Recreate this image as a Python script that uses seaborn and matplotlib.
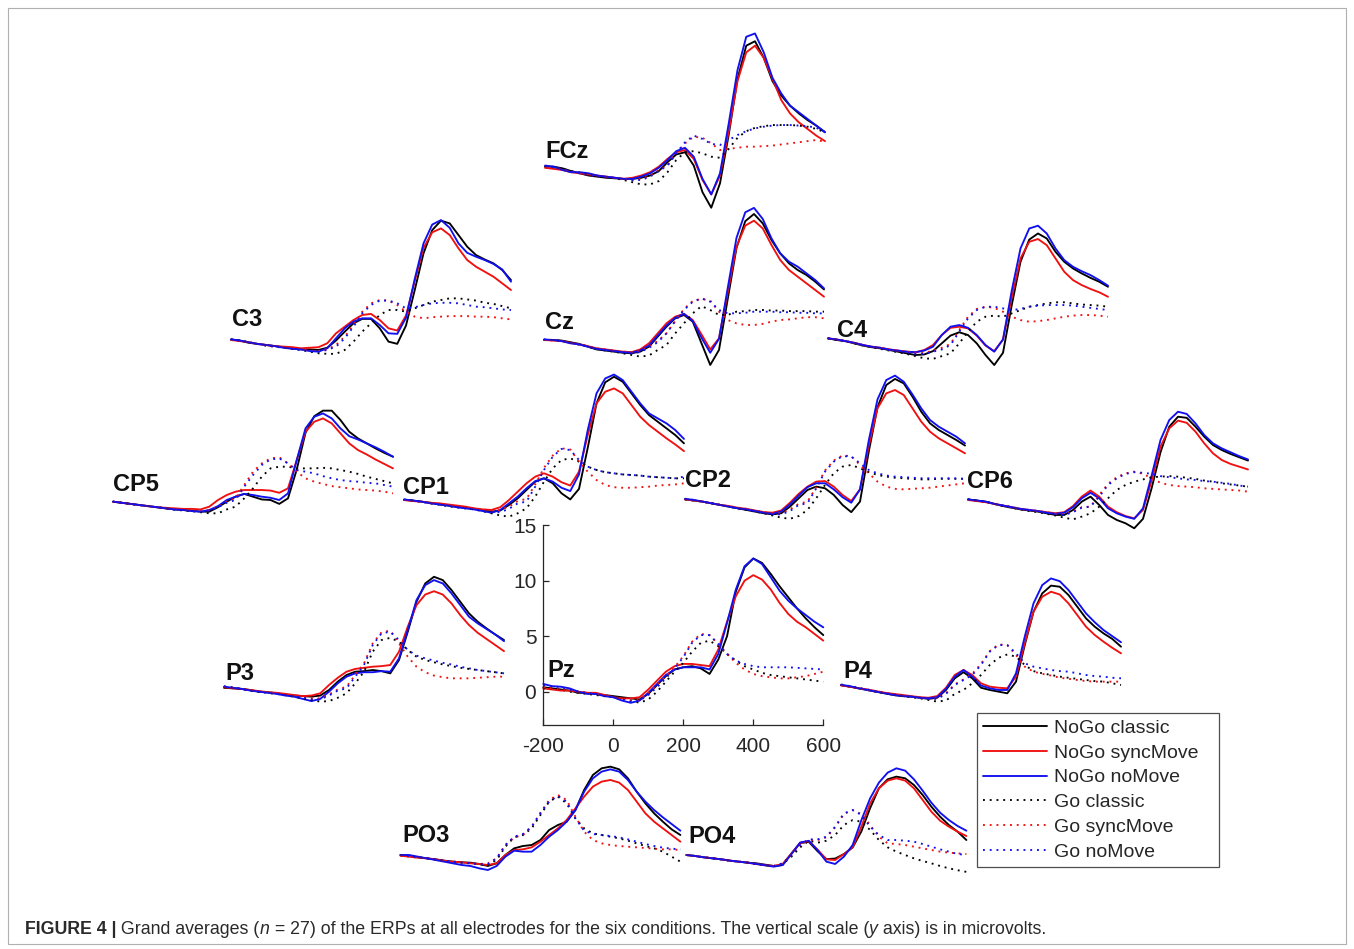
import numpy as np
import pandas as pd
import matplotlib
matplotlib.use("Agg")
import matplotlib.pyplot as plt
import seaborn as sns
from matplotlib.lines import Line2D
from matplotlib.patches import Rectangle

# ---------------- data (µV, sampled every 25 ms from -200 to 600 ms) ----------------
TIME_MS = list(range(-200, 601, 25))
CONDITIONS = ["NoGo classic", "NoGo syncMove", "NoGo noMove",
              "Go classic", "Go syncMove", "Go noMove"]

# each electrode: six series in CONDITIONS order
FCz = [
    [0.3, 0.3, 0.15, -0.1, -0.3, -0.5, -0.6, -0.7, -0.75, -0.8, -0.8,
     -0.7, -0.5, -0.1, 0.7, 1.4, 1.6, 0.4, -2.0, -3.4, -1.2, 3.2,
     8.2, 11.2, 11.6, 10.1, 8.0, 6.7, 5.8, 5.1, 4.5, 4.0, 3.4],
    [0.2, 0.1, 0.0, -0.2, -0.3, -0.4, -0.5, -0.6, -0.7, -0.8, -0.7,
     -0.5, -0.2, 0.3, 1.0, 1.6, 1.8, 1.0, -0.9, -2.2, -0.5, 3.5,
     8.0, 10.6, 11.2, 10.1, 8.2, 6.3, 5.1, 4.3, 3.7, 3.1, 2.6],
    [0.4, 0.3, 0.0, -0.2, -0.2, -0.3, -0.5, -0.6, -0.7, -0.8, -0.8,
     -0.6, -0.3, 0.2, 0.9, 1.7, 2.0, 1.2, -0.8, -2.2, -0.3, 4.2,
     9.0, 12.0, 12.3, 10.6, 8.3, 6.9, 5.8, 5.2, 4.6, 4.0, 3.4],
    [0.3, 0.25, 0.1, -0.1, -0.25, -0.4, -0.55, -0.65, -0.75, -0.9, -1.1,
     -1.3, -1.3, -1.0, -0.2, 0.9, 1.6, 1.7, 1.5, 1.2, 1.1, 1.9,
     2.9, 3.5, 3.8, 3.95, 4.05, 4.05, 4.05, 4.0, 3.9, 3.7, 3.4],
    [0.25, 0.2, 0.05, -0.15, -0.3, -0.45, -0.55, -0.65, -0.7, -0.8, -0.9,
     -0.8, -0.5, 0.0, 0.4, 1.5, 2.4, 3.0, 2.9, 2.4, 1.8, 1.9,
     2.0, 2.1, 2.1, 2.15, 2.2, 2.3, 2.4, 2.5, 2.6, 2.7, 2.55],
    [0.35, 0.25, 0.1, -0.15, -0.3, -0.45, -0.55, -0.65, -0.7, -0.8, -0.9,
     -0.9, -0.6, -0.1, 0.4, 1.5, 2.5, 3.1, 2.8, 2.35, 2.25, 2.7,
     3.15, 3.5, 3.75, 3.9, 4.0, 4.05, 4.05, 4.0, 3.95, 3.8, 3.45],
]
C3 = [
    [0.35, 0.25, 0.05, -0.05, -0.15, -0.25, -0.35, -0.45, -0.55, -0.55, -0.6,
     -0.4, 0.25, 1.05, 1.8, 2.2, 2.2, 1.35, 0.15, -0.05, 1.6, 4.8,
     8.1, 10.2, 11.05, 10.8, 9.75, 8.7, 7.95, 7.55, 7.2, 6.6, 5.7],
    [0.3, 0.2, 0.1, -0.05, -0.15, -0.25, -0.3, -0.35, -0.45, -0.4, -0.35,
     0.0, 0.9, 1.5, 2.1, 2.55, 2.65, 2.1, 1.35, 1.15, 2.5, 5.6,
     8.6, 10.0, 10.35, 9.75, 8.55, 7.5, 6.9, 6.45, 6.0, 5.4, 4.8],
    [0.35, 0.25, 0.1, -0.05, -0.15, -0.25, -0.4, -0.5, -0.55, -0.7, -0.75,
     -0.45, 0.45, 1.35, 1.95, 2.25, 2.25, 1.65, 0.9, 0.85, 2.3, 5.8,
     9.0, 10.7, 11.1, 10.4, 9.0, 8.15, 7.8, 7.5, 7.15, 6.65, 5.55],
    [0.35, 0.25, 0.1, -0.05, -0.2, -0.3, -0.4, -0.5, -0.6, -0.75, -0.9,
     -0.95, -0.95, -0.6, 0.15, 1.05, 1.8, 2.55, 3.0, 3.0, 2.85, 3.15,
     3.45, 3.75, 3.9, 4.05, 4.05, 3.95, 3.85, 3.65, 3.55, 3.35, 3.15],
    [0.3, 0.2, 0.1, -0.05, -0.2, -0.3, -0.35, -0.45, -0.55, -0.65, -0.7,
     -0.55, -0.15, 0.6, 1.65, 2.85, 3.6, 3.9, 3.85, 3.45, 2.85, 2.4,
     2.25, 2.35, 2.4, 2.45, 2.45, 2.45, 2.4, 2.4, 2.35, 2.25, 2.15],
    [0.35, 0.25, 0.1, -0.05, -0.2, -0.3, -0.4, -0.5, -0.6, -0.7, -0.75,
     -0.6, -0.3, 0.45, 1.5, 2.7, 3.45, 3.85, 3.85, 3.6, 3.15, 3.25,
     3.45, 3.6, 3.65, 3.65, 3.6, 3.45, 3.3, 3.25, 3.15, 3.05, 3.0],
]
Cz = [
    [0.3, 0.3, 0.25, 0.1, -0.05, -0.3, -0.55, -0.65, -0.75, -0.85, -0.9,
     -0.75, -0.3, 0.6, 1.5, 2.25, 2.55, 1.95, 0.0, -1.95, -0.6, 4.0,
     8.6, 11.0, 11.65, 10.8, 9.3, 8.1, 7.2, 6.6, 6.15, 5.55, 4.85],
    [0.3, 0.25, 0.2, 0.05, -0.1, -0.25, -0.45, -0.55, -0.65, -0.75, -0.8,
     -0.55, 0.0, 0.9, 1.8, 2.4, 2.65, 2.1, 0.8, -0.55, 0.45, 4.6,
     8.7, 10.6, 11.05, 10.35, 8.85, 7.5, 6.6, 6.0, 5.4, 4.8, 4.2],
    [0.35, 0.3, 0.2, 0.0, -0.1, -0.3, -0.5, -0.6, -0.7, -0.8, -0.85,
     -0.65, -0.2, 0.7, 1.6, 2.3, 2.65, 2.0, 0.5, -0.85, 0.4, 5.0,
     9.5, 11.8, 12.2, 11.2, 9.45, 8.1, 7.35, 6.9, 6.3, 5.7, 4.95],
    [0.3, 0.3, 0.2, 0.05, -0.1, -0.3, -0.5, -0.65, -0.75, -0.9, -1.05,
     -1.2, -1.1, -0.6, -0.15, 0.9, 1.8, 2.7, 3.35, 3.0, 2.55, 2.55,
     2.85, 2.9, 3.0, 3.0, 2.95, 2.95, 2.9, 2.9, 2.9, 2.85, 2.85],
    [0.3, 0.25, 0.2, 0.05, -0.1, -0.25, -0.45, -0.55, -0.65, -0.75, -0.8,
     -0.7, -0.3, 0.2, 0.9, 2.0, 3.1, 3.8, 4.0, 3.85, 2.85, 2.1,
     1.8, 1.65, 1.65, 1.75, 1.95, 2.1, 2.15, 2.25, 2.35, 2.35, 2.25],
    [0.35, 0.3, 0.2, 0.05, -0.1, -0.3, -0.5, -0.6, -0.7, -0.8, -0.9,
     -0.8, -0.4, 0.1, 0.9, 2.0, 3.0, 3.75, 4.05, 3.75, 3.0, 2.7,
     2.7, 2.75, 2.85, 2.85, 2.85, 2.8, 2.8, 2.75, 2.75, 2.7, 2.7],
]
C4 = [
    [0.3, 0.15, 0.05, -0.15, -0.35, -0.5, -0.6, -0.75, -0.9, -1.05, -1.2,
     -1.15, -0.85, -0.15, 0.55, 0.85, 0.6, -0.15, -1.2, -2.1, -1.0, 3.3,
     7.2, 9.2, 9.75, 9.3, 8.1, 7.2, 6.6, 6.15, 5.75, 5.4, 4.95],
    [0.3, 0.2, 0.05, -0.1, -0.3, -0.45, -0.55, -0.7, -0.8, -0.9, -0.95,
     -0.75, -0.3, 0.6, 1.25, 1.35, 1.2, 0.55, -0.35, -0.85, 0.2, 4.0,
     7.5, 9.0, 9.25, 8.7, 7.5, 6.3, 5.55, 5.1, 4.75, 4.45, 4.05],
    [0.3, 0.2, 0.05, -0.1, -0.3, -0.45, -0.55, -0.7, -0.8, -0.9, -0.95,
     -0.8, -0.45, 0.6, 1.35, 1.5, 1.25, 0.6, -0.3, -0.9, 0.2, 4.6,
     8.4, 10.2, 10.45, 9.75, 8.4, 7.35, 6.75, 6.35, 6.0, 5.55, 5.05],
    [0.3, 0.15, 0.05, -0.15, -0.35, -0.5, -0.65, -0.8, -0.95, -1.1, -1.3,
     -1.5, -1.55, -1.3, -1.05, -0.15, 0.9, 1.8, 2.25, 2.35, 2.25, 2.55,
     2.85, 3.15, 3.3, 3.45, 3.55, 3.55, 3.45, 3.35, 3.3, 3.25, 3.15],
    [0.3, 0.2, 0.05, -0.1, -0.3, -0.45, -0.55, -0.7, -0.8, -0.9, -1.0,
     -1.0, -0.8, -0.55, -0.2, 1.05, 2.25, 2.95, 3.15, 3.05, 2.7, 2.25,
     1.95, 1.8, 1.85, 1.95, 2.1, 2.25, 2.35, 2.4, 2.4, 2.35, 2.25],
    [0.3, 0.2, 0.05, -0.1, -0.3, -0.45, -0.6, -0.75, -0.85, -0.95, -1.1,
     -1.1, -0.9, -0.7, -0.3, 0.9, 2.1, 2.85, 3.15, 3.15, 3.0, 2.85,
     2.95, 3.15, 3.25, 3.3, 3.3, 3.3, 3.25, 3.15, 3.05, 2.95, 2.85],
]
CP5 = [
    [0.3, 0.2, 0.1, 0.0, -0.1, -0.2, -0.3, -0.4, -0.45, -0.5, -0.6,
     -0.6, -0.2, 0.3, 0.75, 1.0, 0.75, 0.5, 0.45, 0.1, 0.6, 3.2,
     6.5, 8.0, 8.5, 8.5, 7.65, 6.6, 6.0, 5.55, 5.1, 4.7, 4.35],
    [0.3, 0.2, 0.1, 0.0, -0.1, -0.2, -0.25, -0.3, -0.35, -0.35, -0.4,
     -0.15, 0.45, 0.9, 1.2, 1.35, 1.35, 1.35, 1.3, 1.1, 1.5, 4.05,
     6.6, 7.5, 7.8, 7.35, 6.45, 5.55, 4.95, 4.55, 4.1, 3.7, 3.3],
    [0.3, 0.2, 0.1, 0.0, -0.1, -0.2, -0.3, -0.4, -0.45, -0.55, -0.6,
     -0.45, -0.1, 0.45, 0.75, 1.0, 0.9, 0.75, 0.65, 0.45, 1.05, 4.05,
     6.9, 7.95, 8.25, 7.8, 6.9, 6.2, 5.9, 5.55, 5.2, 4.8, 4.35],
    [0.3, 0.2, 0.1, 0.0, -0.1, -0.2, -0.3, -0.4, -0.5, -0.55, -0.65,
     -0.75, -0.75, -0.4, -0.15, 0.6, 1.5, 2.55, 3.3, 3.45, 3.45, 3.3,
     3.3, 3.3, 3.35, 3.3, 3.15, 3.0, 2.8, 2.55, 2.35, 2.15, 1.95],
    [0.3, 0.2, 0.1, 0.0, -0.1, -0.2, -0.3, -0.35, -0.4, -0.5, -0.55,
     -0.45, -0.15, 0.3, 0.6, 1.8, 3.0, 3.75, 4.2, 4.3, 3.75, 3.0,
     2.4, 2.1, 1.9, 1.7, 1.6, 1.5, 1.4, 1.35, 1.3, 1.2, 1.05],
    [0.3, 0.2, 0.1, 0.0, -0.1, -0.2, -0.3, -0.4, -0.45, -0.55, -0.6,
     -0.5, -0.2, 0.2, 0.45, 1.65, 2.7, 3.6, 4.1, 4.2, 3.75, 3.15,
     3.0, 2.85, 2.6, 2.4, 2.25, 2.15, 2.1, 2.0, 1.95, 1.8, 1.65],
]
CP1 = [
    [0.3, 0.25, 0.15, 0.05, -0.1, -0.2, -0.3, -0.4, -0.5, -0.6, -0.75,
     -0.65, -0.15, 0.45, 1.2, 1.95, 2.25, 1.8, 0.9, 0.35, 1.3, 5.0,
     9.0, 10.9, 11.4, 10.95, 9.9, 8.85, 7.95, 7.35, 6.75, 6.15, 5.4],
    [0.3, 0.2, 0.15, 0.05, 0.0, -0.1, -0.2, -0.3, -0.45, -0.55, -0.6,
     -0.35, 0.3, 1.05, 1.8, 2.4, 2.7, 2.4, 1.9, 1.6, 2.85, 6.15,
     9.0, 10.05, 10.35, 9.9, 8.85, 7.8, 7.05, 6.45, 5.85, 5.3, 4.7],
    [0.35, 0.25, 0.15, 0.0, -0.1, -0.2, -0.35, -0.45, -0.55, -0.7, -0.85,
     -0.6, 0.0, 0.6, 1.35, 2.0, 2.25, 1.95, 1.4, 1.1, 2.6, 6.6,
     9.9, 11.25, 11.6, 11.1, 10.05, 9.0, 8.1, 7.65, 7.2, 6.6, 5.8],
    [0.3, 0.25, 0.15, 0.0, -0.1, -0.25, -0.35, -0.45, -0.55, -0.7, -0.9,
     -1.1, -1.2, -0.9, -0.45, 0.6, 1.95, 3.15, 3.9, 4.05, 3.75, 3.3,
     3.0, 2.8, 2.7, 2.6, 2.55, 2.5, 2.4, 2.35, 2.3, 2.25, 2.25],
    [0.3, 0.2, 0.15, 0.05, -0.05, -0.15, -0.25, -0.35, -0.45, -0.55, -0.65,
     -0.6, -0.3, 0.2, 0.4, 1.7, 3.2, 4.3, 4.95, 4.85, 3.75, 2.85,
     2.1, 1.65, 1.45, 1.4, 1.4, 1.45, 1.5, 1.6, 1.65, 1.7, 1.8],
    [0.35, 0.25, 0.15, 0.0, -0.1, -0.25, -0.35, -0.45, -0.55, -0.7, -0.8,
     -0.8, -0.5, 0.0, 0.15, 1.5, 3.0, 4.2, 4.9, 4.8, 3.9, 3.3,
     3.0, 2.8, 2.7, 2.6, 2.55, 2.5, 2.4, 2.35, 2.3, 2.25, 2.4],
]
CP2 = [
    [0.3, 0.2, 0.1, -0.05, -0.2, -0.35, -0.5, -0.65, -0.8, -0.95, -1.05,
     -0.95, -0.35, 0.4, 1.15, 1.45, 1.3, 0.7, -0.2, -0.85, 0.1, 4.6,
     8.6, 10.6, 11.15, 10.75, 9.55, 8.2, 7.15, 6.55, 6.1, 5.65, 5.15],
    [0.3, 0.2, 0.1, -0.05, -0.2, -0.3, -0.45, -0.55, -0.7, -0.85, -0.9,
     -0.7, 0.0, 0.8, 1.45, 1.9, 1.95, 1.45, 0.7, 0.15, 1.2, 5.1,
     8.5, 9.85, 10.15, 9.7, 8.5, 7.3, 6.4, 5.8, 5.35, 4.9, 4.45],
    [0.35, 0.25, 0.1, -0.05, -0.2, -0.35, -0.5, -0.6, -0.75, -0.9, -1.0,
     -0.8, -0.15, 0.65, 1.4, 1.75, 1.75, 1.2, 0.5, 0.0, 1.2, 5.6,
     9.3, 11.05, 11.45, 10.9, 9.75, 8.5, 7.45, 6.85, 6.4, 5.95, 5.35],
    [0.3, 0.2, 0.1, -0.05, -0.2, -0.35, -0.5, -0.65, -0.8, -0.95, -1.15,
     -1.35, -1.45, -1.2, -0.65, 0.4, 1.6, 2.65, 3.25, 3.4, 3.1, 2.75,
     2.5, 2.35, 2.25, 2.2, 2.15, 2.1, 2.1, 2.15, 2.15, 2.15, 2.15],
    [0.3, 0.2, 0.1, -0.05, -0.2, -0.3, -0.45, -0.55, -0.7, -0.85, -0.95,
     -0.95, -0.6, -0.1, 0.1, 1.4, 2.9, 3.8, 4.25, 4.2, 3.4, 2.65,
     1.9, 1.45, 1.25, 1.2, 1.25, 1.3, 1.35, 1.45, 1.55, 1.65, 1.75],
    [0.35, 0.25, 0.1, -0.05, -0.2, -0.35, -0.5, -0.6, -0.75, -0.9, -1.05,
     -1.05, -0.75, -0.2, -0.05, 1.3, 2.8, 3.7, 4.2, 4.15, 3.55, 2.95,
     2.65, 2.45, 2.35, 2.3, 2.25, 2.2, 2.2, 2.2, 2.2, 2.2, 2.15],
]
CP6 = [
    [0.35, 0.25, 0.15, -0.05, -0.25, -0.4, -0.55, -0.65, -0.75, -0.9, -1.05,
     -1.05, -0.6, 0.15, 0.6, -0.15, -1.05, -1.5, -1.8, -2.25, -1.4, 1.4,
     4.6, 6.9, 7.8, 7.7, 6.9, 6.0, 5.25, 4.8, 4.45, 4.15, 3.85],
    [0.3, 0.2, 0.1, -0.05, -0.2, -0.35, -0.5, -0.6, -0.7, -0.8, -0.9,
     -0.8, -0.25, 0.6, 1.15, 0.6, -0.3, -0.8, -1.15, -1.35, -0.6, 2.1,
     5.1, 6.75, 7.45, 7.25, 6.45, 5.4, 4.5, 3.9, 3.55, 3.3, 3.05],
    [0.35, 0.25, 0.15, -0.05, -0.2, -0.35, -0.5, -0.6, -0.7, -0.85, -0.95,
     -0.85, -0.35, 0.45, 0.95, 0.45, -0.45, -0.9, -1.2, -1.4, -0.45, 2.55,
     5.7, 7.5, 8.25, 8.05, 7.2, 6.15, 5.4, 4.95, 4.6, 4.25, 3.95],
    [0.35, 0.25, 0.15, -0.05, -0.25, -0.4, -0.55, -0.7, -0.8, -0.95, -1.1,
     -1.3, -1.45, -1.2, -0.9, -0.3, 0.45, 1.2, 1.65, 1.95, 2.15, 2.35,
     2.4, 2.45, 2.4, 2.3, 2.2, 2.05, 1.95, 1.8, 1.7, 1.6, 1.5],
    [0.3, 0.2, 0.1, -0.05, -0.2, -0.35, -0.5, -0.6, -0.7, -0.8, -0.95,
     -1.0, -0.75, -0.35, -0.3, 0.75, 1.75, 2.35, 2.7, 2.85, 2.65, 2.25,
     1.85, 1.65, 1.55, 1.5, 1.45, 1.35, 1.3, 1.25, 1.2, 1.15, 1.05],
    [0.35, 0.25, 0.15, -0.05, -0.2, -0.35, -0.5, -0.6, -0.7, -0.85, -1.0,
     -1.05, -0.8, -0.4, -0.3, 0.6, 1.65, 2.25, 2.65, 2.8, 2.75, 2.65,
     2.45, 2.35, 2.25, 2.15, 2.1, 2.0, 1.95, 1.85, 1.75, 1.6, 1.5],
]
P3 = [
    [0.2, 0.15, 0.1, 0.0, -0.15, -0.2, -0.3, -0.4, -0.5, -0.55, -0.6,
     -0.5, 0.0, 0.75, 1.35, 1.65, 1.7, 1.8, 1.7, 1.5, 2.7, 5.25,
     7.95, 9.6, 10.2, 9.9, 9.0, 7.95, 6.9, 6.15, 5.55, 5.0, 4.5],
    [0.25, 0.15, 0.1, 0.0, -0.1, -0.2, -0.25, -0.35, -0.45, -0.55, -0.5,
     -0.3, 0.45, 1.1, 1.65, 1.9, 2.0, 2.1, 2.15, 2.25, 3.45, 5.7,
     7.65, 8.6, 8.9, 8.6, 7.8, 6.75, 5.85, 5.15, 4.6, 4.05, 3.5],
    [0.3, 0.2, 0.1, -0.05, -0.15, -0.25, -0.35, -0.5, -0.6, -0.8, -1.0,
     -0.8, -0.15, 0.6, 1.2, 1.5, 1.6, 1.6, 1.7, 1.65, 2.85, 5.4,
     8.1, 9.45, 9.9, 9.6, 8.7, 7.65, 6.6, 6.0, 5.5, 5.0, 4.4],
    [0.25, 0.2, 0.1, -0.05, -0.15, -0.25, -0.35, -0.45, -0.6, -0.75, -0.9,
     -1.05, -1.0, -0.7, -0.3, 0.6, 1.65, 3.45, 4.5, 4.7, 4.35, 3.6,
     3.0, 2.7, 2.5, 2.3, 2.15, 2.0, 1.9, 1.8, 1.7, 1.6, 1.5],
    [0.3, 0.2, 0.1, 0.0, -0.1, -0.2, -0.3, -0.4, -0.5, -0.6, -0.75,
     -0.75, -0.4, 0.05, 0.3, 1.35, 2.4, 4.2, 5.2, 5.35, 4.2, 3.0,
     2.1, 1.6, 1.3, 1.15, 1.05, 1.05, 1.05, 1.1, 1.15, 1.2, 1.2],
    [0.35, 0.25, 0.1, -0.05, -0.15, -0.25, -0.35, -0.45, -0.55, -0.7, -0.85,
     -0.85, -0.5, -0.05, 0.15, 1.2, 2.25, 4.05, 5.1, 5.25, 4.5, 3.6,
     3.1, 2.85, 2.65, 2.45, 2.3, 2.1, 1.95, 1.8, 1.7, 1.6, 1.5],
]
Pz = [
    [0.4, 0.3, 0.2, 0.1, -0.1, -0.1, -0.2, -0.3, -0.4, -0.5, -0.6,
     -0.7, -0.2, 0.6, 1.4, 2.0, 2.2, 2.3, 2.1, 1.6, 2.9, 5.0,
     9.0, 11.2, 12.0, 11.6, 10.6, 9.5, 8.5, 7.5, 6.6, 5.8, 5.1],
    [0.3, 0.2, 0.1, 0.1, 0.0, -0.1, -0.1, -0.3, -0.5, -0.6, -0.6,
     -0.5, 0.2, 1.0, 1.8, 2.3, 2.5, 2.5, 2.4, 2.3, 3.8, 6.3,
     8.6, 10.0, 10.5, 10.1, 9.2, 8.0, 7.0, 6.3, 5.8, 5.2, 4.6],
    [0.7, 0.5, 0.45, 0.3, 0.0, -0.2, -0.2, -0.4, -0.5, -0.8, -1.0,
     -0.8, -0.1, 0.7, 1.5, 2.0, 2.2, 2.2, 2.2, 2.0, 3.4, 6.2,
     9.2, 11.3, 12.0, 11.5, 10.3, 9.1, 8.2, 7.5, 6.9, 6.3, 5.8],
    [0.3, 0.3, 0.2, 0.0, -0.1, -0.2, -0.3, -0.4, -0.5, -0.6, -0.8,
     -1.0, -0.7, 0.0, 0.9, 1.8, 2.6, 3.6, 4.4, 4.6, 4.1, 3.4,
     2.8, 2.3, 2.0, 1.7, 1.5, 1.4, 1.3, 1.2, 1.1, 1.0, 0.9],
    [0.4, 0.3, 0.2, 0.1, 0.0, -0.1, -0.2, -0.3, -0.5, -0.6, -0.8,
     -0.7, -0.1, 0.6, 1.4, 2.2, 3.2, 4.5, 5.2, 5.1, 4.3, 3.4,
     2.6, 2.0, 1.6, 1.4, 1.3, 1.2, 1.2, 1.3, 1.4, 1.6, 1.8],
    [0.6, 0.5, 0.4, 0.2, 0.0, -0.1, -0.2, -0.4, -0.5, -0.7, -0.9,
     -0.8, -0.3, 0.4, 1.2, 2.1, 3.1, 4.4, 5.1, 5.1, 4.3, 3.4,
     2.8, 2.5, 2.3, 2.2, 2.2, 2.2, 2.2, 2.15, 2.1, 2.05, 2.0],
]
P4 = [
    [0.3, 0.15, 0.0, -0.15, -0.3, -0.45, -0.6, -0.7, -0.75, -0.85, -0.95,
     -0.85, -0.15, 0.9, 1.45, 0.9, 0.05, -0.15, -0.3, -0.45, 0.6, 3.9,
     6.9, 8.55, 9.25, 9.15, 8.4, 7.35, 6.3, 5.55, 4.95, 4.45, 3.75],
    [0.25, 0.15, 0.0, -0.1, -0.25, -0.4, -0.5, -0.6, -0.7, -0.8, -0.85,
     -0.7, 0.05, 1.2, 1.65, 1.2, 0.45, 0.15, 0.05, 0.0, 1.05, 4.05,
     6.9, 8.25, 8.7, 8.45, 7.65, 6.6, 5.55, 4.8, 4.2, 3.65, 3.15],
    [0.3, 0.2, 0.0, -0.15, -0.3, -0.45, -0.6, -0.7, -0.75, -0.85, -0.9,
     -0.8, -0.05, 1.05, 1.65, 1.05, 0.25, 0.0, -0.15, -0.15, 1.35, 4.65,
     7.65, 9.3, 9.9, 9.65, 8.85, 7.8, 6.75, 5.95, 5.25, 4.7, 4.15],
    [0.3, 0.15, 0.0, -0.15, -0.3, -0.45, -0.6, -0.7, -0.8, -0.9, -1.05,
     -1.2, -1.1, -0.5, -0.15, 0.45, 1.2, 2.1, 2.75, 3.05, 2.85, 2.1,
     1.55, 1.35, 1.2, 1.05, 0.95, 0.85, 0.75, 0.65, 0.6, 0.45, 0.3],
    [0.3, 0.15, 0.0, -0.15, -0.3, -0.4, -0.55, -0.65, -0.75, -0.85, -0.95,
     -0.9, -0.45, 0.35, 0.8, 1.3, 2.2, 3.35, 3.95, 3.9, 3.0, 1.95,
     1.5, 1.3, 1.15, 0.95, 0.85, 0.75, 0.65, 0.6, 0.6, 0.6, 0.6],
    [0.35, 0.2, 0.05, -0.1, -0.3, -0.45, -0.55, -0.65, -0.75, -0.85, -0.95,
     -0.95, -0.5, 0.3, 0.75, 1.2, 2.1, 3.3, 3.9, 3.9, 3.15, 2.25,
     1.95, 1.8, 1.65, 1.55, 1.5, 1.35, 1.2, 1.1, 1.05, 0.95, 0.9],
]
PO3 = [
    [0.27, 0.18, 0.06, -0.03, -0.12, -0.24, -0.33, -0.39, -0.42, -0.54, -0.72,
     -0.48, 0.27, 0.87, 1.08, 1.17, 1.62, 2.52, 2.97, 3.27, 4.32, 6.13,
     7.48, 8.08, 8.23, 7.99, 7.18, 5.98, 4.92, 4.02, 3.27, 2.58, 2.07],
    [0.21, 0.12, 0.03, -0.03, -0.12, -0.24, -0.33, -0.39, -0.48, -0.54, -0.63,
     -0.48, 0.27, 0.72, 0.78, 0.96, 1.47, 2.07, 2.67, 3.42, 4.47, 5.53,
     6.43, 6.88, 7.03, 6.79, 6.13, 5.08, 4.02, 3.27, 2.67, 2.07, 1.47],
    [0.27, 0.27, 0.12, -0.03, -0.18, -0.33, -0.48, -0.63, -0.72, -0.93, -1.08,
     -0.72, 0.12, 0.66, 0.57, 0.57, 1.17, 1.92, 2.52, 3.27, 4.32, 5.98,
     7.18, 7.78, 7.99, 7.78, 7.03, 5.98, 5.08, 4.32, 3.66, 3.06, 2.46],
    [0.27, 0.18, 0.06, -0.03, -0.12, -0.24, -0.33, -0.42, -0.48, -0.57, -0.63,
     -0.18, 1.02, 1.86, 2.07, 2.67, 3.87, 5.08, 5.53, 4.92, 3.57, 2.67,
     2.22, 2.07, 1.92, 1.77, 1.56, 1.32, 1.08, 0.87, 0.57, 0.12, -0.33],
    [0.21, 0.12, 0.03, -0.03, -0.12, -0.24, -0.33, -0.39, -0.48, -0.54, -0.48,
     -0.03, 1.17, 1.86, 2.07, 2.82, 4.08, 5.23, 5.68, 5.23, 3.72, 2.37,
     1.62, 1.32, 1.17, 1.08, 1.02, 0.96, 0.9, 0.84, 0.78, 0.78, 0.72],
    [0.27, 0.18, 0.06, -0.03, -0.12, -0.24, -0.33, -0.42, -0.48, -0.57, -0.54,
     -0.03, 1.17, 1.92, 2.16, 2.82, 4.02, 5.08, 5.59, 5.08, 3.57, 2.46,
     2.16, 2.07, 1.98, 1.86, 1.68, 1.47, 1.26, 1.08, 0.93, 0.84, 0.78],
]
PO4 = [
    [0.27, 0.18, 0.06, -0.03, -0.12, -0.24, -0.33, -0.42, -0.48, -0.6, -0.72,
     -0.63, 0.4, 1.35, 1.45, 0.6, -0.1, -0.05, 0.35, 0.95, 2.4, 4.5,
     6.28, 7.09, 7.33, 7.18, 6.58, 5.68, 4.62, 3.72, 2.97, 2.37, 1.62],
    [0.27, 0.18, 0.06, -0.03, -0.12, -0.24, -0.33, -0.42, -0.54, -0.66, -0.72,
     -0.54, 0.4, 1.35, 1.5, 0.75, -0.12, -0.18, 0.36, 0.96, 2.82, 4.92,
     6.28, 6.97, 7.18, 6.97, 6.28, 5.23, 4.17, 3.36, 2.82, 2.37, 1.98],
    [0.27, 0.18, 0.06, -0.03, -0.12, -0.24, -0.33, -0.42, -0.54, -0.66, -0.78,
     -0.63, 0.35, 1.4, 1.55, 0.7, -0.33, -0.54, 0.12, 1.17, 3.42, 5.38,
     6.79, 7.69, 8.08, 7.87, 7.09, 6.07, 4.98, 4.08, 3.42, 2.88, 2.46],
    [0.27, 0.18, 0.06, -0.03, -0.12, -0.24, -0.33, -0.42, -0.54, -0.63, -0.72,
     -0.54, 0.12, 0.96, 1.56, 1.38, 1.56, 2.07, 2.97, 3.42, 3.27, 2.52,
     1.62, 0.96, 0.57, 0.27, -0.03, -0.27, -0.48, -0.72, -0.93, -1.1, -1.25],
    [0.27, 0.18, 0.06, -0.03, -0.12, -0.24, -0.33, -0.42, -0.54, -0.63, -0.72,
     -0.48, 0.27, 1.17, 1.62, 1.62, 1.86, 2.76, 3.96, 4.32, 3.96, 2.97,
     1.92, 1.32, 1.26, 1.17, 1.02, 0.87, 0.72, 0.57, 0.48, 0.42, 0.36],
    [0.27, 0.18, 0.06, -0.03, -0.12, -0.24, -0.33, -0.42, -0.54, -0.63, -0.72,
     -0.48, 0.27, 1.17, 1.68, 1.68, 1.92, 2.82, 4.02, 4.32, 3.87, 2.82,
     2.07, 1.62, 1.62, 1.56, 1.47, 1.26, 1.02, 0.78, 0.57, 0.36, 0.27],
]

ELECTRODES = {"FCz": FCz, "C3": C3, "Cz": Cz, "C4": C4, "CP5": CP5, "CP1": CP1,
              "CP2": CP2, "CP6": CP6, "P3": P3, "Pz": Pz, "P4": P4,
              "PO3": PO3, "PO4": PO4}

X_TICKS = [-200, 0, 200, 400, 600]
Y_TICKS = [0, 5, 10, 15]
CAPTION = [("FIGURE 4 |", "bold", "normal"),
           (" Grand averages (", "normal", "normal"),
           ("n", "normal", "italic"),
           (" = 27) of the ERPs at all electrodes for the six conditions. The vertical scale (", "normal", "normal"),
           ("y", "normal", "italic"),
           (" axis) is in microvolts.", "normal", "normal")]

# ---------------- layout (pixels: x of -200 ms, y of 0 µV; label left/baseline) ----------------
ORIGIN_PX = {"FCz": (545, 170), "C3": (231, 343.3), "Cz": (544, 343.3), "C4": (828, 341.7),
             "CP5": (113, 505), "CP1": (404, 503.3), "CP2": (685, 502.7), "CP6": (968, 503.3),
             "P3": (224, 690), "Pz": (543.3, 691.7), "P4": (841, 688.3),
             "PO3": (400.4, 858), "PO4": (686.4, 858)}
LABEL_PX = {"FCz": (545, 158), "C3": (232, 326), "Cz": (545, 329), "C4": (837, 337),
            "CP5": (113, 491), "CP1": (403, 494), "CP2": (685, 487), "CP6": (967, 488),
            "P3": (225, 680), "Pz": (547, 677), "P4": (843, 678),
            "PO3": (402, 842), "PO4": (688, 843)}

W, H = 1354, 949
PX_PER_MS = 280 / 800
PX_PER_UV = 11.1

sns.set_style("white")
plt.rcParams["font.family"] = ["Liberation Sans", "DejaVu Sans"]

PALETTE = {"NoGo classic": "#000000", "NoGo syncMove": "#f01010", "NoGo noMove": "#1010f0",
           "Go classic": "#000000", "Go syncMove": "#f01010", "Go noMove": "#1010f0"}
DASHES = {"NoGo classic": "", "NoGo syncMove": "", "NoGo noMove": "",
          "Go classic": (1, 2.6), "Go syncMove": (1, 2.6), "Go noMove": (1, 2.6)}
LW = 1.35

fig = plt.figure(figsize=(W / 100, H / 100), dpi=100)
fig.patch.set_facecolor("white")


def make_axes(x0, y0, ymin, ymax):
    w = 800 * PX_PER_MS
    h = (ymax - ymin) * PX_PER_UV
    bottom_px = y0 - ymin * PX_PER_UV
    ax = fig.add_axes([x0 / W, 1 - bottom_px / H, w / W, h / H])
    ax.set_xlim(-200, 600)
    ax.set_ylim(ymin, ymax)
    ax.patch.set_alpha(0)
    return ax


for name, series in ELECTRODES.items():
    x0, y0 = ORIGIN_PX[name]
    if name == "Pz":
        ax = make_axes(x0, y0, -3, 15)
    else:
        ax = make_axes(x0, y0, -4, 15)
    df = pd.DataFrame({
        "t": TIME_MS * len(CONDITIONS),
        "v": [v for s in series for v in s],
        "cond": [c for c in CONDITIONS for _ in TIME_MS],
    })
    sns.lineplot(data=df, x="t", y="v", hue="cond", style="cond",
                 hue_order=CONDITIONS, style_order=CONDITIONS,
                 palette=PALETTE, dashes=DASHES, linewidth=LW,
                 estimator=None, legend=False, ax=ax)
    for ln in ax.lines:
        ln.set_clip_on(False)
        ln.set_solid_joinstyle("round")
    ax.set_xlim(-200, 600)
    ax.set_xlabel("")
    ax.set_ylabel("")
    if name == "Pz":
        ax.set_ylim(-3, 15)
        for side in ["top", "right"]:
            ax.spines[side].set_visible(False)
        for side in ["left", "bottom"]:
            ax.spines[side].set_visible(True)
            ax.spines[side].set_color("#262626")
            ax.spines[side].set_linewidth(0.9)
        ax.set_xticks(X_TICKS)
        ax.set_yticks(Y_TICKS)
        ax.set_xticklabels([str(t) for t in X_TICKS])
        ax.set_yticklabels([str(t) for t in Y_TICKS])
        ax.tick_params(direction="in", length=4, width=0.9, labelsize=15,
                       colors="#262626", bottom=True, left=True)
        ax.tick_params(axis="x", pad=9)
        ax.tick_params(axis="y", pad=5)
    else:
        ax.set_axis_off()
    lx, ly = LABEL_PX[name]
    fig.text(lx / W, 1 - ly / H, name, fontsize=17, fontweight="bold",
             ha="left", va="baseline", color="#111111")

# legend
handles = [Line2D([], [], color=PALETTE[c], lw=LW,
                  linestyle="-" if DASHES[c] == "" else (0, DASHES[c]))
           for c in CONDITIONS]
leg = fig.legend(handles, CONDITIONS, loc="upper left",
                 bbox_to_anchor=(977 / W, 1 - 866 / H, 242 / W, 153 / H),
                 mode="expand", frameon=True,
                 fancybox=False, shadow=False, fontsize=14, labelspacing=0.37,
                 handlelength=3.3, handletextpad=0.35, borderpad=0.32,
                 borderaxespad=0.0)
leg.get_frame().set_edgecolor("#222222")
leg.get_frame().set_linewidth(0.9)

# caption
renderer = fig.canvas.get_renderer()
cx = 25 / W
for txt, weight, style in CAPTION:
    t = fig.text(cx, 1 - 934 / H, txt, fontsize=12.8, fontweight=weight,
                 fontstyle=style, ha="left", va="baseline", color="#2a2a2a")
    bb = t.get_window_extent(renderer)
    cx = bb.x1 / W

# outer border
fig.patches.append(Rectangle((8 / W, 1 - 944 / H), (1346 - 8) / W, (944 - 8) / H,
                             transform=fig.transFigure, fill=False,
                             edgecolor="#b0b0b0", linewidth=0.8))

fig.savefig("out.png", dpi=100, facecolor="white")
